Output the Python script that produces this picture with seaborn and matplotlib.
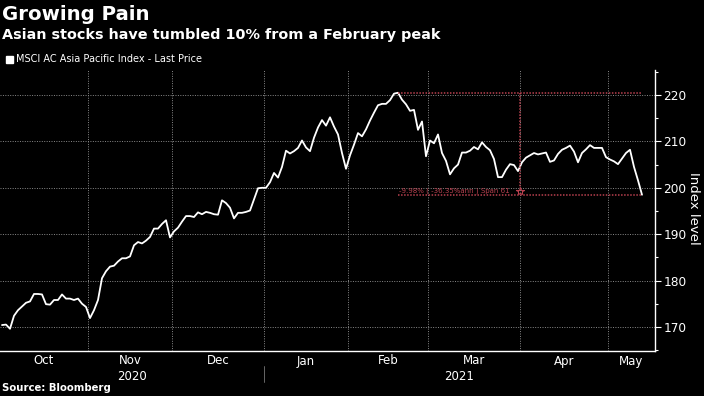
import pandas as pd
import matplotlib
matplotlib.use("Agg")
import matplotlib.pyplot as plt
import matplotlib.transforms as mtransforms
from matplotlib.ticker import MultipleLocator, FixedLocator, NullFormatter
import seaborn as sns

TITLE = "Growing Pain"
SUBTITLE = "Asian stocks have tumbled 10% from a February peak"
SERIES_NAME = "MSCI AC Asia Pacific Index - Last Price"
SOURCE = "Source: Bloomberg"
Y_LABEL = "Index level"

# trading days, Oct 1 2020 .. May 13 2021
dates = pd.bdate_range("2020-10-01", "2021-05-13")
index_level = [
    170.4, 170.5, 169.6, 172.4, 173.6, 174.4, 175.2, 175.5, 177.1, 177.1,
    177.0, 174.9, 174.8, 175.8, 175.8, 177.0, 176.1, 176.1, 175.8, 176.1,
    175.0, 174.3, 171.9, 173.6, 175.8, 180.5, 182.0, 183.0, 183.2, 184.1,
    184.8, 184.8, 185.2, 187.6, 188.3, 188.0, 188.6, 189.4, 191.2, 191.2,
    192.2, 193.0, 189.3, 190.6, 191.4, 192.7, 193.9, 193.9, 193.7, 194.7,
    194.3, 194.8, 194.6, 194.3, 194.2, 197.3, 196.7, 195.7, 193.4, 194.6,
    194.6, 194.8, 195.1, 197.5, 199.9, 200.0, 200.0, 201.2, 203.2, 202.2,
    204.5, 208.0, 207.4, 207.9, 208.6, 210.2, 208.7, 207.9, 210.8, 213.0,
    214.6, 213.4, 215.2, 213.2, 211.5, 207.5, 204.1, 207.0, 209.3, 211.8,
    211.1, 212.6, 214.5, 216.2, 217.8, 218.1, 218.1, 218.9, 220.3, 220.5,
    219.0, 218.0, 216.6, 216.8, 212.5, 214.3, 206.8, 210.2, 209.6, 211.5,
    207.5, 205.8, 202.9, 204.2, 205.0, 207.6, 207.6, 208.0, 208.8, 208.3,
    209.8, 208.8, 208.1, 206.2, 202.3, 202.3, 203.9, 205.1, 204.9, 203.6,
    205.5, 206.5, 207.0, 207.5, 207.2, 207.4, 207.6, 205.6, 205.9, 207.3,
    208.2, 208.6, 209.1, 207.8, 205.5, 207.5, 208.3, 209.2, 208.6, 208.6,
    208.6, 206.6, 206.1, 205.7, 205.1, 206.3, 207.5, 208.2, 204.5, 201.6,
    198.5,
]
y_ticks = [170, 180, 190, 200, 210, 220]
annotation_text = "-9.98% ( -36.35%ann ) Span 61"
marker_date = "2021-04-01"

df = pd.DataFrame({"date": dates, "level": index_level})
df["day"] = range(len(df))
df["month"] = df["date"].dt.to_period("M")

XMIN, XMAX = -0.5, 163.25
RED = "#b8404f"
GRID = "#8a8a8a"

sns.set_style("dark")
plt.rcParams["font.family"] = ["DejaVu Sans"]

fig = plt.figure(figsize=(7.04, 3.96), dpi=100, facecolor="black")
ax = fig.add_axes([0.0, 0.1136, 0.9304, 0.7096])
ax.set_facecolor("black")

sns.lineplot(data=df, x="day", y="level", color="white", linewidth=1.3, ax=ax)

ax.set_xlim(XMIN, XMAX)
ax.set_ylim(164.8, 225.4)

# month boundaries / centers
firsts = df.groupby("month")["day"].min().tolist()
bounds = [f - 0.5 for f in firsts[1:]]
edges = [XMIN] + bounds + [XMAX]
centers = [(a + b) / 2 for a, b in zip(edges[:-1], edges[1:])]
month_names = [m.strftime("%b") for m in df["month"].unique()]

ax.xaxis.set_major_locator(FixedLocator(bounds))
ax.xaxis.set_major_formatter(NullFormatter())
ax.tick_params(axis="x", which="major", colors="white", length=4, width=0.8)

ax.yaxis.tick_right()
ax.set_yticks(y_ticks)
ax.yaxis.set_minor_locator(MultipleLocator(5))
ax.tick_params(axis="y", which="both", colors="white", labelsize=8.7, length=4, width=0.8, pad=2)
ax.tick_params(axis="y", which="minor", length=2.5)
ax.set_xlabel("")
ax.set_ylabel("")

ax.grid(True, which="major", color=GRID, linestyle=(0, (1, 1.5)), linewidth=0.7)
for s in ["top", "left"]:
    ax.spines[s].set_visible(False)
for s in ["bottom", "right"]:
    ax.spines[s].set_visible(True)
    ax.spines[s].set_color("white")
    ax.spines[s].set_linewidth(1.0)

trans = mtransforms.blended_transform_factory(ax.transData, fig.transFigure)
for c, name in zip(centers, month_names):
    ax.text(c, 1 - 361 / 396, name, transform=trans, color="white", fontsize=8.5,
            ha="center", va="center")
year_split = bounds[2]
ax.text((XMIN + year_split) / 2, 1 - 376 / 396, "2020", transform=trans, color="white",
        fontsize=8.5, ha="center", va="center")
ax.text((year_split + XMAX) / 2, 1 - 376 / 396, "2021", transform=trans, color="white",
        fontsize=8.5, ha="center", va="center")
ax.plot([year_split, year_split], [1 - 366 / 396, 1 - 382 / 396], transform=trans,
        color="#777777", linewidth=0.6, clip_on=False)

# peak-to-last annotation
peak_day = int(df["level"].idxmax())
last_day = int(df["day"].iloc[-1])
peak = df["level"].max()
last = df["level"].iloc[-1]
mark_day = int(df.loc[df["date"] == marker_date, "day"].iloc[0]) - 0.5
dots = (0, (1, 1))
ax.plot([peak_day, last_day], [peak, peak], color=RED, linestyle=dots, linewidth=1.1)
ax.plot([peak_day, last_day], [last, last], color=RED, linestyle=dots, linewidth=1.1)
ax.plot([mark_day, mark_day], [peak, last + 1.4], color=RED, linestyle=dots, linewidth=1.1)
ax.text(peak_day + 0.3, last + 0.2, annotation_text, color=RED, fontsize=5.0,
        ha="left", va="bottom")
ax.plot([mark_day], [last + 0.9], marker="*", markersize=6, markerfacecolor="none",
        markeredgecolor=RED, markeredgewidth=0.8, linestyle="none")

# titles, legend, source
fig.text(0.003, 1 - 14 / 396, TITLE, color="white", fontsize=14.2, fontweight="bold",
         va="center", ha="left")
fig.text(0.003, 1 - 35 / 396, SUBTITLE, color="white", fontsize=10.4, fontweight="bold",
         va="center", ha="left")
fig.patches.append(plt.Rectangle((6 / 704, 1 - 63 / 396), 7 / 704, 7 / 396,
                                 transform=fig.transFigure, color="white"))
fig.text(16 / 704, 1 - 59.5 / 396, SERIES_NAME, color="white", fontsize=7,
         va="center", ha="left")
fig.text(694 / 704, 1 - 208 / 396, Y_LABEL, color="white", fontsize=9.5, rotation=270,
         va="center", ha="center")
fig.text(0.003, 1 - 388 / 396, SOURCE, color="white", fontsize=7.3, fontweight="bold",
         va="center", ha="left")

fig.savefig("out.png", dpi=100, facecolor="black")
